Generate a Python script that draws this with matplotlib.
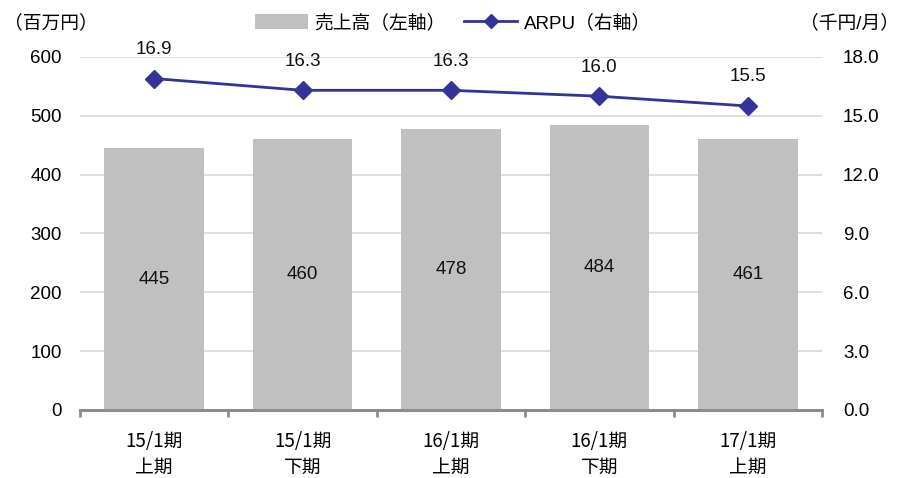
import matplotlib
matplotlib.use("Agg")
import matplotlib.pyplot as plt
from matplotlib.lines import Line2D
from matplotlib.patches import Patch
import numpy as np

plt.rcParams['font.family'] = ['Liberation Sans', 'Noto Sans CJK JP']

periods = ['15/1期\n上期', '15/1期\n下期', '16/1期\n上期', '16/1期\n下期', '17/1期\n上期']
sales = [445, 460, 478, 484, 461]          # 売上高 (百万円)
arpu = [16.9, 16.3, 16.3, 16.0, 15.5]      # ARPU (千円/月)

fs = 13.5

fig = plt.figure(figsize=(9.06, 4.78), dpi=100)
ax = fig.add_axes([0.0883, 0.1423, 0.819, 0.7385])
ax2 = ax.twinx()

x = np.arange(len(periods))
bars = ax.bar(x, sales, width=0.67, color='#c0c0c0', zorder=2)
for xi, v in zip(x, sales):
    ax.text(xi, v / 2, str(v), ha='center', va='center', fontsize=fs, color='#111111')

ax.set_xlim(-0.5, len(periods) - 0.5)
ax.set_ylim(0, 600)
ax.set_yticks(range(0, 601, 100))
ax.yaxis.grid(True, color='#d9d9d9', linewidth=1.2, zorder=0)
ax.set_axisbelow(True)
for s in ['top', 'left', 'right']:
    ax.spines[s].set_visible(False)
ax.spines['bottom'].set_color('#8c8c8c')
ax.spines['bottom'].set_linewidth(2.2)
ax.tick_params(axis='y', length=0, pad=13, labelsize=fs)
ax.set_xticks(np.arange(-0.5, len(periods), 1.0))
ax.set_xticklabels([])
ax.set_xticks(x, minor=True)
ax.set_xticklabels(periods, minor=True, fontsize=fs, linespacing=1.3,
                   family=['Noto Sans CJK JP'])
ax.tick_params(axis='x', which='major', length=5, width=2, color='#8c8c8c', direction='out')
ax.tick_params(axis='x', which='minor', length=0, pad=15)

ax2.plot(x, arpu, color='#333399', linewidth=2, marker='D', markersize=9, zorder=3)
for xi, v in zip(x, arpu):
    ax2.text(xi, v + 1.05, f'{v:.1f}', ha='center', va='bottom', fontsize=fs, color='#111111')
ax2.set_ylim(0, 18)
ax2.set_yticks(np.arange(0, 18.1, 3))
ax2.set_yticklabels([f'{t:.1f}' for t in np.arange(0, 18.1, 3)])
ax2.tick_params(axis='y', length=0, pad=15, labelsize=fs)
for s in ['top', 'left', 'right', 'bottom']:
    ax2.spines[s].set_visible(False)

fig.text(0.004, 0.952, '（百万円）', fontsize=fs, ha='left', va='center')
fig.text(0.992, 0.952, '（千円/月）', fontsize=fs, ha='right', va='center')

handles = [Patch(facecolor='#c0c0c0', edgecolor='none'),
           Line2D([0], [0], color='#333399', linewidth=2, marker='D', markersize=7)]
fig.legend(handles, ['売上高（左軸）', 'ARPU（右軸）'], loc='center', bbox_to_anchor=(0.5, 0.952),
           ncol=2, frameon=False, fontsize=fs, handlelength=2.8, handleheight=0.9,
           columnspacing=1.0, handletextpad=0.35)

fig.savefig('out.png', dpi=100)
